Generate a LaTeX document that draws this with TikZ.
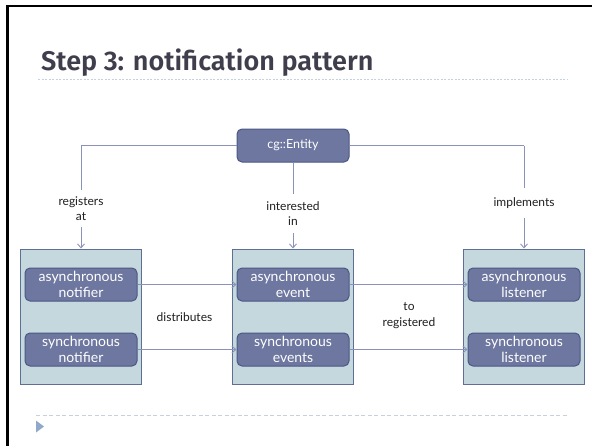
\documentclass[tikz,border=0pt]{standalone}
\usepackage{fontspec}
\setmainfont{Lato}
\newfontfamily\titlefont{Fira Sans SemiBold}
\usetikzlibrary{arrows.meta,positioning}

\definecolor{framec}{HTML}{000000}
\definecolor{titlec}{HTML}{3E3E4C}
\definecolor{rulec}{HTML}{C4D2DF}
\definecolor{linkc}{HTML}{8A92BA}
\definecolor{contfill}{HTML}{C4D8DE}
\definecolor{contdraw}{HTML}{5F6E96}
\definecolor{itemfill}{HTML}{6D779F}
\definecolor{itemdraw}{HTML}{4C5784}
\definecolor{markc}{HTML}{90A9C8}

\tikzset{
  container/.style={draw=contdraw, fill=contfill, line width=1pt,
    minimum width=121pt, minimum height=135pt, inner sep=0pt},
  item/.style={draw=itemdraw, fill=itemfill, line width=1pt, rounded corners=5pt,
    minimum width=112pt, minimum height=33pt, inner sep=0pt,
    text=white, font=\fontsize{14}{15.5}\selectfont, align=center},
  entitybox/.style={item, minimum width=112pt, minimum height=33pt,
    font=\fontsize{12.5}{14}\selectfont},
  link/.style={draw=linkc, line width=0.9pt},
  arrowlink/.style={link, -{Straight Barb[length=4pt,width=7pt]}},
  lbl/.style={fill=white, inner sep=0pt, align=center, text=black!88,
    font=\fontsize{12}{15.5}\selectfont},
  freelbl/.style={inner sep=0pt, align=center, text=black!88,
    font=\fontsize{12}{15.5}\selectfont}
}

\begin{document}
\begin{tikzpicture}[x=1pt,y=-1pt]
  % page extent
  \useasboundingbox (0,0) rectangle (592,445);
  \fill[white] (0,0) rectangle (592,445);

  % slide frame (left and top edges)
  \draw[framec, line width=2.6pt] (7.5,446) -- (7.5,6) -- (593,6);

  % title and its rules
  \node[anchor=base west, inner sep=0pt, text=titlec,
        font=\titlefont\fontsize{27}{30}\selectfont] (title) at (41,70)
        {Step 3: notification pattern};
  \draw[rulec, line width=1pt, dash pattern=on 2pt off 1.5pt] (38,79) -- (568,79);
  \draw[rulec, line width=1pt, dash pattern=on 4pt off 2.5pt] (36,415) -- (568,415);
  \fill[markc] (36,420.5) -- (44,426.5) -- (36,432.5) -- cycle;

  % three groups
  \node[container] (notifiers) at (80.5,316.5) {};
  \node[container] (events)    at (293,316.5) {};
  \node[container] (listeners) at (523.5,316.5) {};

  \node[item] (anot) at (81,284.5)  {asynchronous\\notifier};
  \node[item] (snot) at (81,349.5)  {synchronous\\notifier};
  \node[item] (aev)  at (293,284.5) {asynchronous\\event};
  \node[item] (sev)  at (293,349.5) {synchronous\\events};
  \node[item] (alis) at (524,284.5) {asynchronous\\listener};
  \node[item] (slis) at (524,349.5) {synchronous\\listener};

  % entity
  \node[entitybox] (entity) at (293,145.5) {cg::Entity};

  % relations from the entity
  \coordinate (regtop) at (81,145.5);
  \coordinate (impltop) at (524,145.5);
  \draw[link] (entity.west) -- (regtop);
  \draw[link] (entity.east) -- (impltop);
  \draw[arrowlink] (regtop) -- (regtop |- notifiers.north);
  \draw[arrowlink] (impltop) -- (impltop |- listeners.north);
  \draw[arrowlink] (entity.south) -- (events.north);

  \node[lbl, minimum height=37pt, minimum width=50pt] (reglbl) at (81,208.5) {registers\\at};
  \node[lbl, minimum height=39pt, minimum width=62pt] (intlbl) at (293,213.5) {interested\\in};
  \node[lbl, minimum height=30pt, minimum width=62pt] (impllbl) at (524,203) {implements};

  % distribution
  \draw[arrowlink] (anot.east) -- (aev.west);
  \draw[arrowlink] (snot.east) -- (sev.west);
  \draw[arrowlink] (aev.east) -- (alis.west);
  \draw[arrowlink] (sev.east) -- (slis.west);

  \node[freelbl] (distlbl) at (184.5,317) {distributes};
  \node[freelbl] (tolbl) at (409,315.5) {to\\registered};
\end{tikzpicture}
\end{document}
